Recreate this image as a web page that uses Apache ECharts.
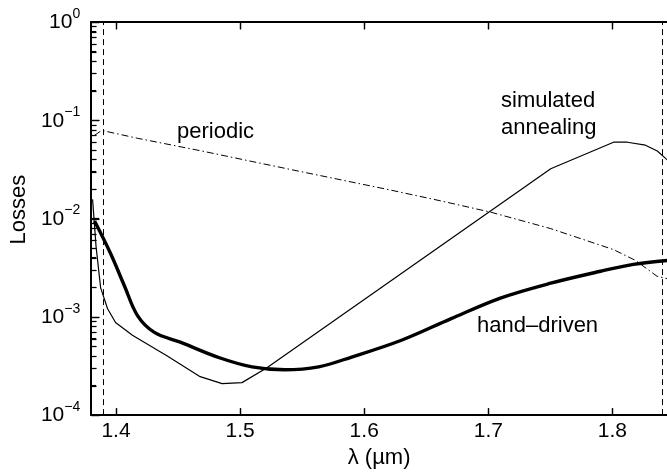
<!DOCTYPE html>
<html>
<head>
<meta charset="utf-8">
<script src="https://cdn.jsdelivr.net/npm/echarts@6/dist/echarts.min.js"></script>
<style>html,body{margin:0;padding:0;background:#fff;}#c{width:667px;height:474px;}</style>
</head>
<body>
<div id="c"></div>
<script>
// wavelength (µm) / loss pairs
var periodicX = [1.3827, 1.3884, 1.4173, 1.4694, 1.5095, 1.5497, 1.6179, 1.6620, 1.7021, 1.7503, 1.8009, 1.8186, 1.8359, 1.8443];
var periodicY = [0.0703, 0.0789, 0.0656, 0.0486, 0.0381, 0.0299, 0.0199, 0.0151, 0.0116, 0.00790, 0.00483, 0.00375, 0.00259, 0.00244];

var annealX = [1.3811, 1.3839, 1.3876, 1.3932, 1.3996, 1.4132, 1.4413, 1.4678, 1.4855, 1.5015, 1.5216, 1.7503, 1.8009, 1.8121, 1.8266, 1.8362, 1.8442];
var annealY = [0.01567, 0.00518, 0.00197, 0.00121, 0.000876, 0.000649, 0.000399, 0.000246, 0.000209, 0.000214, 0.000303, 0.0321, 0.0598, 0.0598, 0.0558, 0.0486, 0.0395];

var handX = [1.3827, 1.3956, 1.4068, 1.4173, 1.4309, 1.4518, 1.4839, 1.5096, 1.5360, 1.5633, 1.5899, 1.6300, 1.6701, 1.7103, 1.7503, 1.7905, 1.8169, 1.8443];
var handY = [0.00944, 0.00441, 0.00206, 0.00103, 0.000695, 0.000552, 0.000381, 0.000310, 0.000289, 0.000310, 0.000390, 0.000578, 0.000960, 0.00156, 0.00220, 0.00291, 0.00342, 0.00375];

var cutoffs = [1.3898, 1.8356];
var xTicks = [1.4, 1.5, 1.6, 1.7, 1.8];
var yDecades = [1e-4, 1e-3, 1e-2, 1e-1, 1];
var yMinor = [];
[1e-4, 1e-3, 1e-2, 1e-1].forEach(function (d) { for (var k = 2; k <= 9; k++) yMinor.push(d * k); });

var X_MIN = 1.38, X_MAX = 1.844, Y_MIN = 1e-4, Y_MAX = 1;

function pairs(xs, ys) { return xs.map(function (x, i) { return [x, ys[i]]; }); }
function log10(v) { return Math.log(v) / Math.LN10; }

// tick marks as data points (kind: 0 bottom, 1 top, 2 left major, 3 left minor)
var tickData = []
  .concat(xTicks.map(function (x) { return [x, Y_MIN, 0]; }))
  .concat(xTicks.map(function (x) { return [x, Y_MAX, 1]; }))
  .concat(yDecades.map(function (y) { return [X_MIN, y, 2]; }))
  .concat(yMinor.map(function (y) { return [X_MIN, y, 3]; }));

var FONT = '"Liberation Sans", Arial, Helvetica, sans-serif';
var chart = echarts.init(document.getElementById('c'));

chart.setOption({
  animation: false,
  grid: { left: 88, top: 22, right: 0, bottom: 53 },
  xAxis: [{
    type: 'value', min: X_MIN, max: X_MAX,
    name: 'λ (µm)', nameLocation: 'middle', nameGap: 27,
    nameTextStyle: { fontSize: 22, color: '#000', fontFamily: FONT },
    axisLine: { show: true, onZero: false, lineStyle: { color: '#000', width: 2 } },
    axisTick: { show: true, inside: true, length: 7, customValues: xTicks, lineStyle: { color: '#000', width: 1.3 } },
    axisLabel: { show: true, customValues: xTicks, fontSize: 21, color: '#000', margin: 6, fontFamily: FONT,
      formatter: function (v) { return v.toFixed(1); } },
    splitLine: { show: false }
  }, {
    type: 'value', min: X_MIN, max: X_MAX, position: 'top',
    axisLine: { show: true, onZero: false, lineStyle: { color: '#000', width: 2 } },
    axisTick: { show: true, inside: true, length: 7, customValues: xTicks, lineStyle: { color: '#000', width: 1.3 } },
    axisLabel: { show: false, customValues: xTicks },
    splitLine: { show: false }
  }],
  yAxis: [{
    type: 'log', logBase: 10, min: Y_MIN, max: Y_MAX,
    name: 'Losses', nameLocation: 'middle', nameGap: 56, nameRotate: 90,
    nameTextStyle: { fontSize: 22, color: '#000', fontFamily: FONT, padding: [0, 0, 0, 18] },
    axisLine: { show: true, onZero: false, lineStyle: { color: '#000', width: 2 } },
    axisTick: { show: true, inside: true, length: 8, lineStyle: { color: '#000', width: 1.3 } },
    minorTick: { show: true, splitNumber: 9, length: 5, lineStyle: { color: '#000', width: 1.1 } },
    axisLabel: {
      show: true, margin: 11, fontFamily: FONT,
      formatter: function (v) {
        var e = Math.round(log10(v));
        return '{b|10}{s|' + (e < 0 ? '\u2212' + (-e) : e) + '}';
      },
      rich: {
        b: { fontSize: 21, color: '#000', fontFamily: FONT, verticalAlign: 'bottom', lineHeight: 22 },
        s: { fontSize: 14, color: '#000', fontFamily: FONT, verticalAlign: 'bottom', lineHeight: 22, padding: [0, 0, 12, 0] }
      }
    },
    splitLine: { show: false }
  }],
  series: [{
    name: 'periodic', type: 'line',
    data: pairs(periodicX, periodicY), showSymbol: false, symbol: 'none',
    lineStyle: { color: '#000', width: 1, type: [7, 3, 1.5, 3] },
    markLine: {
      silent: true, symbol: ['none', 'none'], label: { show: false },
      lineStyle: { color: '#000', width: 1, type: [6, 4] },
      data: cutoffs.map(function (c) { return { xAxis: c }; })
    }
  }, {
    name: 'simulated annealing', type: 'line',
    data: pairs(annealX, annealY), showSymbol: false, symbol: 'none',
    lineStyle: { color: '#000', width: 1.2 }
  }, {
    name: 'hand-driven', type: 'line',
    data: pairs(handX, handY), showSymbol: false, symbol: 'none', smooth: 0.35,
    lineStyle: { color: '#000', width: 3.4 }
  }, {
    name: 'ticks', type: 'custom', silent: true, clip: false, z: 20,
    dimensions: ['x', 'y', 'kind'],
    encode: { x: 0, y: 1 },
    data: tickData,
    renderItem: function (params, api) {
      var p = api.coord([api.value(0), api.value(1)]);
      var kind = api.value(2);
      var x = Math.round(p[0]) + 0.5, y = Math.round(p[1]) + 0.5;
      var shape;
      if (kind === 0) shape = { x1: x, y1: y, x2: x, y2: y - 7 };
      else if (kind === 1) shape = { x1: x, y1: y, x2: x, y2: y + 7 };
      else if (kind === 2) shape = { x1: x, y1: y, x2: x + 8, y2: y };
      else shape = { x1: x, y1: y, x2: x + 5, y2: y };
      return { type: 'line', shape: shape, style: { stroke: '#000', lineWidth: 1.2 } };
    }
  }],
  graphic: [
    { type: 'text', left: 177, top: 121, style: { text: 'periodic', font: '22px ' + FONT, fill: '#000' } },
    { type: 'text', left: 501, top: 90, style: { text: 'simulated', font: '22px ' + FONT, fill: '#000' } },
    { type: 'text', left: 501, top: 117, style: { text: 'annealing', font: '22px ' + FONT, fill: '#000' } },
    { type: 'text', left: 477, top: 315, style: { text: 'hand\u2013driven', font: '22px ' + FONT, fill: '#000' } }
  ]
});
</script>
</body>
</html>
